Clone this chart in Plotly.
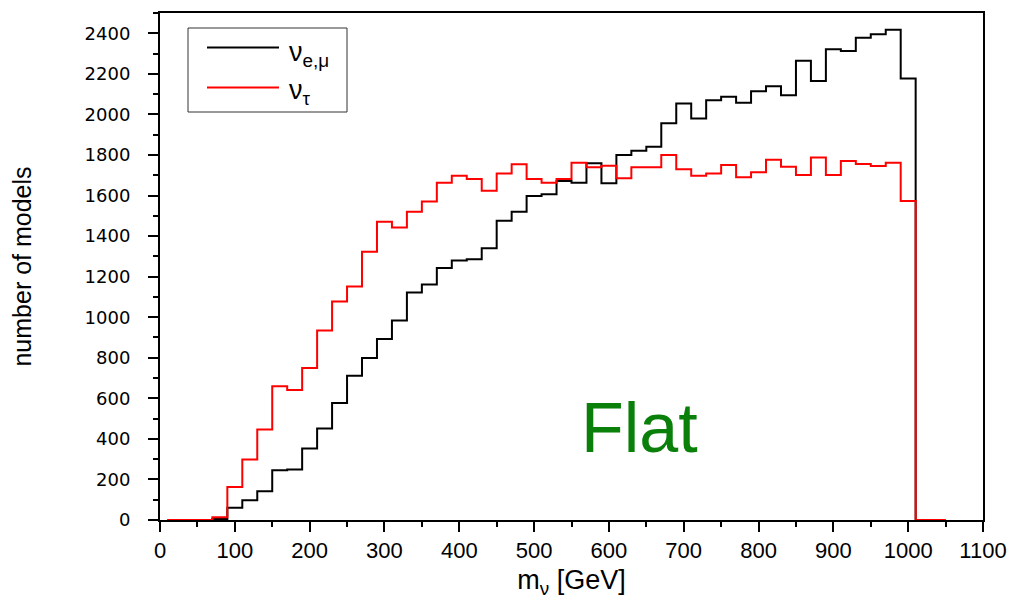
import plotly.graph_objects as go

# ---- data ----
bin_width = 20
first_edge = 10
# counts per 20 GeV bin, bins 10-30, 30-50, ..., 1030-1050
nu_emu = [0, 0, 0,
          5, 60, 98, 142, 245, 249, 352, 451, 577, 711,
          799, 892, 984, 1122, 1161, 1242, 1279, 1286, 1340, 1475,
          1520, 1598, 1606, 1672, 1663, 1759, 1660, 1800, 1821, 1840,
          1956, 2054, 1980, 2070, 2087, 2057, 2114, 2139, 2095, 2264,
          2165, 2321, 2313, 2378, 2395, 2418, 2177,
          0, 0]
nu_tau = [0, 0, 0,
          14, 163, 298, 446, 659, 641, 749, 935, 1077, 1151,
          1323, 1471, 1442, 1520, 1570, 1663, 1698, 1681, 1624, 1709,
          1754, 1681, 1663, 1681, 1762, 1740, 1747, 1685, 1739, 1739,
          1800, 1729, 1698, 1709, 1750, 1690, 1715, 1776, 1742, 1701,
          1788, 1701, 1770, 1755, 1745, 1762, 1573,
          0, 0]
x_ticks = [0, 100, 200, 300, 400, 500, 600, 700, 800, 900, 1000, 1100]
y_ticks = [0, 200, 400, 600, 800, 1000, 1200, 1400, 1600, 1800, 2000, 2200, 2400]
label_emu = "ν<sub>e,μ</sub>"
label_tau = "ν<sub>τ</sub>"

edges = [first_edge + i * bin_width for i in range(len(nu_emu) + 1)]


def step(vals):
    return edges, list(vals) + [vals[-1]]


fig = go.Figure()
for vals, color, name in [(nu_emu, "#000000", label_emu), (nu_tau, "#ff0000", label_tau)]:
    xs, ys = step(vals)
    fig.add_trace(go.Scatter(x=xs, y=ys, mode="lines", line=dict(color=color, width=2, shape="hv"),
                             name=name, showlegend=False, cliponaxis=False))

# page has an 8px body margin: figure occupies 8..1016 x 8..603
OFF = 8
W, H = 1016 - OFF, 603 - OFF
ML, MR, MT, MB = 160 - OFF, 33, 13 - OFF, 83
PW, PH = W - ML - MR, H - MT - MB


def px(x):
    return (x - OFF - ML) / PW


def py(y):
    return (H - MB - (y - OFF)) / PH


# manual legend (positions in page pixels)
fig.add_shape(type="rect", xref="paper", yref="paper", x0=px(188), x1=px(347), y0=py(112), y1=py(28),
              line=dict(color="#333333", width=1), fillcolor="white")
for yy, color in [(47.5, "#000000"), (87.5, "#ff0000")]:
    fig.add_shape(type="line", xref="paper", yref="paper", x0=px(207), x1=px(279), y0=py(yy), y1=py(yy),
                  line=dict(color=color, width=2))
for yy, txt in [(54, label_emu), (92, label_tau)]:
    fig.add_annotation(xref="paper", yref="paper", x=px(287), y=py(yy), text=txt, showarrow=False,
                       xanchor="left", yanchor="middle",
                       font=dict(family="Liberation Sans, Arial", size=27, color="#000000"))

fig.add_annotation(x=641, y=456, xref="x", yref="y", text="Flat", showarrow=False,
                   xanchor="center", yanchor="middle",
                   font=dict(family="Liberation Sans, Arial", size=70, color="#0a800a"))

fig.update_layout(
    width=W, height=H,
    margin=dict(l=ML, r=MR, t=MT, b=MB, autoexpand=False),
    paper_bgcolor="white", plot_bgcolor="white",
    showlegend=False,
    font=dict(family="Liberation Sans, Arial", color="#000000"),
)
fig.update_xaxes(
    range=[0, 1100], tickvals=x_ticks, ticktext=[str(v) for v in x_ticks],
    showgrid=False, zeroline=False, showline=True, linecolor="#000000", linewidth=2, mirror=True,
    ticks="outside", ticklen=10, tickwidth=1.5, tickcolor="#000000",
    minor=dict(ticks="outside", dtick=50, tick0=0, ticklen=5, tickwidth=1.5, tickcolor="#000000", showgrid=False),
    tickfont=dict(family="Liberation Sans, Arial", size=22, color="#000000"),
    title=dict(text="m<sub>ν</sub> [GeV]", font=dict(family="Liberation Sans, Arial", size=27, color="#000000"),
               standoff=8),
)
fig.update_yaxes(
    range=[0, 2500], tickvals=y_ticks, ticktext=[str(v) for v in y_ticks],
    showgrid=False, zeroline=False, showline=True, linecolor="#000000", linewidth=2, mirror=True,
    ticks="outside", ticklen=10, tickwidth=1.5, tickcolor="#000000",
    minor=dict(ticks="outside", dtick=100, tick0=0, ticklen=5, tickwidth=1.5, tickcolor="#000000", showgrid=False),
    tickfont=dict(family="DejaVu Sans", size=18, color="#000000"),
    ticklabelstandoff=14,
    title=dict(text="number of models", font=dict(family="Liberation Sans, Arial", size=25, color="#000000"),
               standoff=46),
)

fig.write_html("out.html")
